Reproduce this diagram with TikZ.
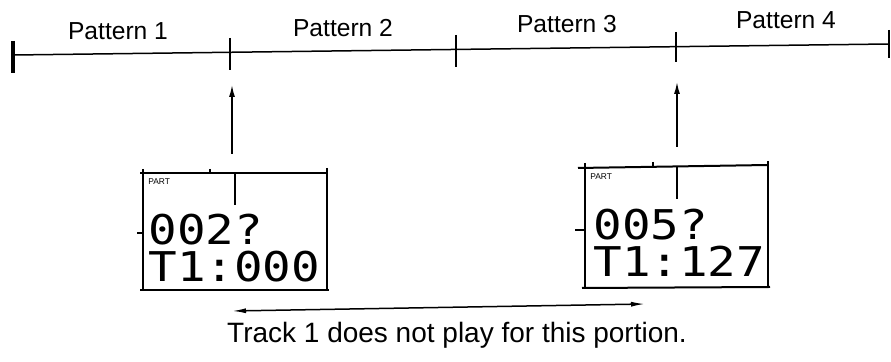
\documentclass[tikz,border=0pt]{standalone}
\usepackage{fontspec}
\setmainfont{Liberation Sans}
\newfontfamily\lcdfont[FakeStretch=1.16]{DejaVu Sans Mono}
\usetikzlibrary{arrows.meta,positioning}

\begin{document}
\begin{tikzpicture}[
  x=0.5pt, y=-0.5pt,
  >={Latex[length=6pt,width=3pt]},
  every node/.style={inner sep=0pt},
  bar/.style={line width=0.75pt},
  lcdbox/.style={line width=1pt},
  lcd/.style={font=\lcdfont\fontsize{20.5}{20.5}\selectfont, anchor=base west},
  pattern/.style={font=\fontsize{12.3}{14}\selectfont, anchor=base},
  partlabel/.style={font=\fontsize{4.2}{5}\selectfont, anchor=base west},
]
\useasboundingbox (0,0) rectangle (891,362);

% Time line with pattern boundaries
\draw[bar] (14,55) -- (889,44);
\draw[line width=2pt] (13,41) -- (13,73);
\foreach \x/\ya/\yb in {230/38/70, 456/35/67, 676/32/62, 889/30/58}
  \draw[bar] (\x,\ya) -- (\x,\yb);

% Pattern labels
\node[pattern] (p1) at (118,40) {Pattern 1};
\node[pattern] (p2) at (343,37) {Pattern 2};
\node[pattern] (p3) at (567,33) {Pattern 3};
\node[pattern] (p4) at (786,29) {Pattern 4};

% Left display
\draw[lcdbox] (140,173) -- (327,173);
\draw[lcdbox] (143,169) -- (143,290);
\draw[lcdbox] (327,168) -- (327,290);
\draw[lcdbox] (140,290) -- (329,290);
\draw[bar] (210,169) -- (210,173);
\draw[bar] (137,233) -- (143,233);
\draw[bar] (235,173) -- (235,205);
\node[partlabel] (partA) at (148,185) {PART};
\node[lcd] (rowA1) at (148,245) {002?};
\node[lcd] (rowA2) at (148,282) {T1:000};

% Right display
\draw[lcdbox] (578,168) -- (768,165);
\draw[lcdbox] (585,163) -- (585,288);
\draw[lcdbox] (768,161) -- (768,287);
\draw[lcdbox] (582,288) -- (770,287);
\draw[bar] (653,162) -- (653,167);
\draw[bar] (575,230) -- (585,230);
\draw[bar] (677,167) -- (677,199);
\node[partlabel] (partB) at (590,180) {PART};
\node[lcd] (rowB1) at (593,240) {005?};
\node[lcd] (rowB2) at (593,277) {T1:127};

% Arrows
\coordinate (upA) at (232,154);
\coordinate (tipA) at (232,85);
\coordinate (upB) at (677,147);
\coordinate (tipB) at (677,82);
\draw[->, bar] (upA) -- (tipA);
\draw[->, bar] (upB) -- (tipB);
\coordinate (spanL) at (232,311);
\coordinate (spanR) at (645,304);
\draw[<->, bar, >={Latex[length=7pt,width=2.5pt]}] (spanL) -- (spanR);

% Note
\node[anchor=base, font=\fontsize{14}{16}\selectfont] (note) at (457,343)
  {Track 1 does not play for this portion.};
\end{tikzpicture}
\end{document}
